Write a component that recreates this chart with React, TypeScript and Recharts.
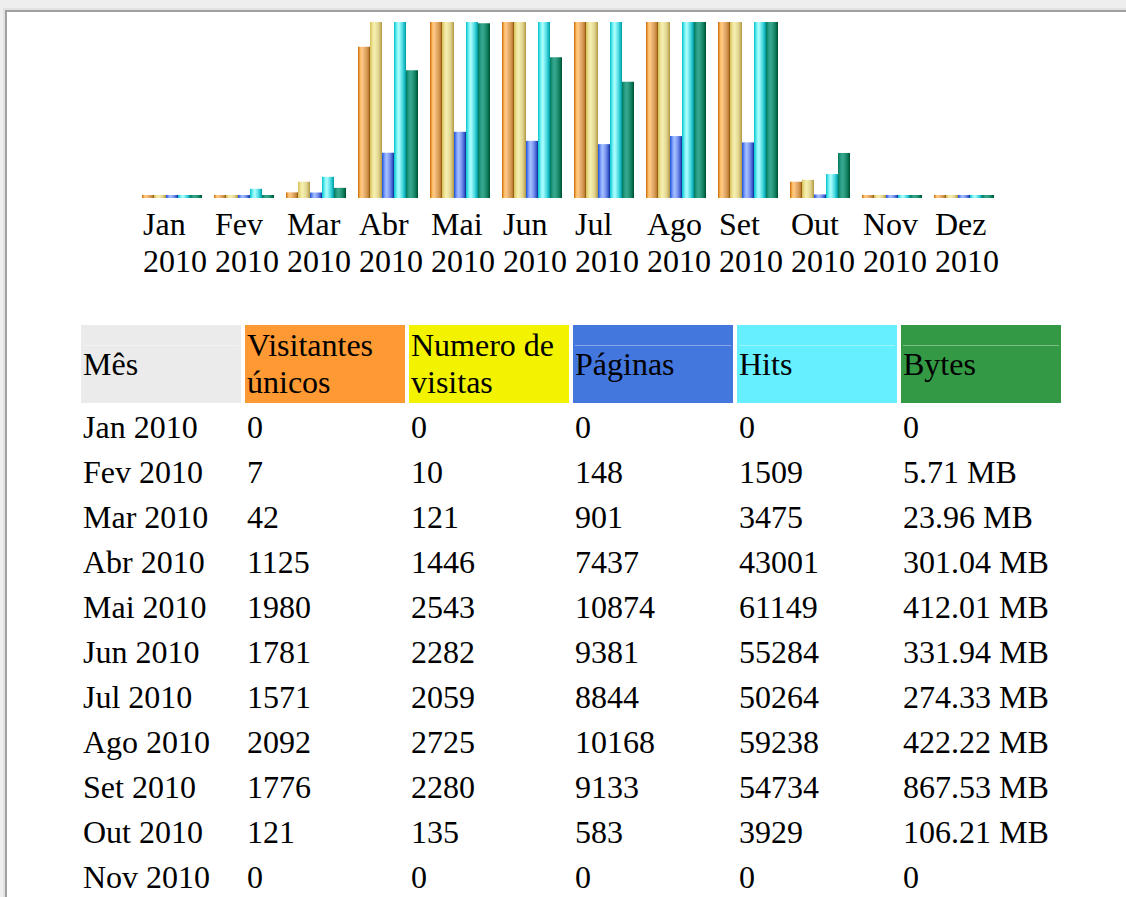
import React from 'react'
import { BarChart, Bar, XAxis, YAxis } from 'recharts'

const months   = ['Jan', 'Fev', 'Mar', 'Abr', 'Mai', 'Jun', 'Jul', 'Ago', 'Set', 'Out', 'Nov', 'Dez']
const year     = '2010'
const visitors = [0, 7, 42, 1125, 1980, 1781, 1571, 2092, 1776, 121, 0, 0]
const visits   = [0, 10, 121, 1446, 2543, 2282, 2059, 2725, 2280, 135, 0, 0]
const pages    = [0, 148, 901, 7437, 10874, 9381, 8844, 10168, 9133, 583, 0, 0]
const hits     = [0, 1509, 3475, 43001, 61149, 55284, 50264, 59238, 54734, 3929, 0, 0]
const bytesMB  = [0, 5.71, 23.96, 301.04, 412.01, 331.94, 274.33, 422.22, 867.53, 106.21, 0, 0]

// each scale is cut off at the top of the picture, as in the original
const visitorsMax = 1310
const pagesMax    = 28900
const bytesMax    = 415

// rows of the table that fit in the window
const visibleRows = 11

const headers = ['Mês', 'Visitantes únicos', 'Numero de visitas', 'Páginas', 'Hits', 'Bytes']

const data = months.map((m, i) => ({
  month: m,
  visitors: visitors[i],
  visits: visits[i],
  pages: pages[i],
  hits: hits[i],
  bytes: bytesMB[i],
}))

const SERIF = '"Liberation Serif", "Times New Roman", serif'
const BAND = 72

// cylinder-like shading of the bars: [offset, colour]
const gradients: Record<string, [string, string][]> = {
  gOrange: [['0%', '#c46c0c'], ['20%', '#ffba60'], ['32%', '#ffcc88'], ['60%', '#e4a867'], ['85%', '#c88a40'], ['100%', '#8c5206']],
  gYellow: [['0%', '#d6c05a'], ['25%', '#f2e8a0'], ['40%', '#f5eeb0'], ['70%', '#e2d690'], ['90%', '#c4b060'], ['100%', '#a89440']],
  gBlue:   [['0%', '#1d4fd8'], ['25%', '#88a8ff'], ['40%', '#a8c0ff'], ['70%', '#6a88e8'], ['90%', '#3050c0'], ['100%', '#0c2c9c']],
  gCyan:   [['0%', '#00c4cc'], ['25%', '#80f4f8'], ['40%', '#b0ffff'], ['70%', '#50dce4'], ['90%', '#10b4bc'], ['100%', '#0096a0']],
  gGreen:  [['0%', '#007a5a'], ['25%', '#2ea088'], ['40%', '#3aa890'], ['70%', '#1a8a6a'], ['90%', '#006848'], ['100%', '#004a30']],
}

const headBg = ['#ebebeb', '#ff9933', '#f3f300', '#4477dd', '#66f0ff', '#339944']
const headLine = [true, false, false, true, true, true]

function MonthTick(props: any) {
  const { x, y, payload } = props
  const left = x - BAND / 2 + 7
  return (
    <text x={left} y={y} fill="#000" fontFamily={SERIF} fontSize={32}>
      <tspan x={left} dy={37}>{payload.value}</tspan>
      <tspan x={left} dy={37}>{year}</tspan>
    </text>
  )
}

function fmtBytes(v: number) {
  return v === 0 ? '0' : `${v.toFixed(2)} MB`
}

export default function App() {
  const cell: React.CSSProperties = {
    width: 156, padding: 2, textAlign: 'left', verticalAlign: 'middle',
    fontWeight: 'normal', lineHeight: 'normal',
  }
  return (
    <div style={{ position: 'absolute', left: 0, top: 0, width: 1126, height: 897, overflow: 'hidden', background: '#eeeeee', fontFamily: SERIF }}>
      <div style={{ position: 'absolute', left: 3, top: 8, width: 1200, height: 1000, borderTop: '2px solid #e2e2e2', borderLeft: '2px solid #e2e2e2' }}>
        <div style={{ width: '100%', height: '100%', borderTop: '2px solid #a0a0a0', borderLeft: '2px solid #a0a0a0', background: '#fff' }} />
      </div>

      <div style={{ position: 'absolute', left: 0, top: 0 }}>
        <BarChart
          width={1010}
          height={300}
          data={data}
          margin={{ top: 22, right: 10, left: 136, bottom: 22 }}
          barCategoryGap={6}
          barGap={0}
        >
          <defs>
            {Object.entries(gradients).map(([id, stops]) => (
              <linearGradient key={id} id={id} x1="0" y1="0" x2="1" y2="0">
                {stops.map(([o, c]) => <stop key={o} offset={o} stopColor={c} />)}
              </linearGradient>
            ))}
          </defs>
          <XAxis dataKey="month" axisLine={false} tickLine={false} tickSize={0} tickMargin={0} height={80} interval={0} tick={<MonthTick />} />
          <YAxis yAxisId="vis" hide domain={[0, visitorsMax]} allowDataOverflow />
          <YAxis yAxisId="pag" hide domain={[0, pagesMax]} allowDataOverflow />
          <YAxis yAxisId="byt" hide domain={[0, bytesMax]} allowDataOverflow />
          <Bar yAxisId="vis" dataKey="visitors" fill="url(#gOrange)" minPointSize={3} isAnimationActive={false} />
          <Bar yAxisId="vis" dataKey="visits" fill="url(#gYellow)" minPointSize={3} isAnimationActive={false} />
          <Bar yAxisId="pag" dataKey="pages" fill="url(#gBlue)" minPointSize={3} isAnimationActive={false} />
          <Bar yAxisId="pag" dataKey="hits" fill="url(#gCyan)" minPointSize={3} isAnimationActive={false} />
          <Bar yAxisId="byt" dataKey="bytes" fill="url(#gGreen)" minPointSize={3} isAnimationActive={false} />
        </BarChart>
      </div>

      <table style={{ position: 'absolute', left: 77, top: 321, borderCollapse: 'separate', borderSpacing: 4, fontFamily: SERIF, fontSize: 32, color: '#000' }}>
        <thead>
          <tr>
            {headers.map((h, i) => (
              <th key={h} style={{
                ...cell,
                height: 74,
                backgroundColor: headBg[i],
                backgroundImage: headLine[i] ? 'linear-gradient(rgba(255,255,255,0.35), rgba(255,255,255,0.35))' : undefined,
                backgroundSize: 'calc(100% - 4px) 1px',
                backgroundPosition: '2px 20px',
                backgroundRepeat: 'no-repeat',
              }}>{h}</th>
            ))}
          </tr>
        </thead>
        <tbody>
          {months.slice(0, visibleRows).map((m, i) => (
            <tr key={m}>
              <td style={cell}>{m} {year}</td>
              <td style={cell}>{visitors[i]}</td>
              <td style={cell}>{visits[i]}</td>
              <td style={cell}>{pages[i]}</td>
              <td style={cell}>{hits[i]}</td>
              <td style={cell}>{fmtBytes(bytesMB[i])}</td>
            </tr>
          ))}
        </tbody>
      </table>
    </div>
  )
}
